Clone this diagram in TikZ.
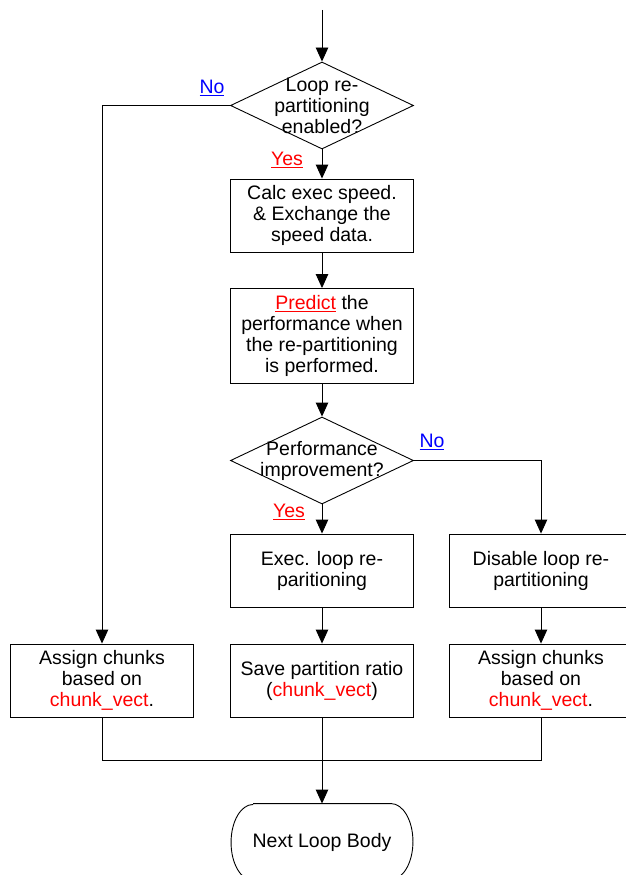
\documentclass[tikz,border=0pt]{standalone}
\usepackage{fontspec}
\setmainfont{Liberation Sans}
\usetikzlibrary{shapes.geometric,arrows.meta}
\definecolor{lnk}{RGB}{0,0,255}
\definecolor{hot}{RGB}{255,0,0}
\newcommand{\yeslbl}{\textcolor{hot}{\underline{Yes}}}
\newcommand{\nolbl}{\textcolor{lnk}{\underline{No}}}
\newcommand{\cv}{\textcolor{hot}{chunk\_vect}}
\begin{document}
\begin{tikzpicture}[x=1pt,y=-1pt,
  font=\fontsize{19.5}{21}\selectfont,
  line width=0.9pt,
  arr/.style={-{Triangle[length=14pt,width=12.5pt]}},
  procbox/.style={draw, rectangle, minimum width=183, minimum height=73, inner sep=0pt, align=center},
  decbox/.style={draw, diamond, minimum width=183, minimum height=87, inner sep=0pt},
  termbox/.style={rectangle, minimum width=181, minimum height=76, inner sep=0pt},
  txt/.style={align=center, inner sep=0pt}]
\useasboundingbox (0,0) rectangle (626,875);
\clip (0,0) rectangle (626,875);

\coordinate (start) at (322,10);
\node[decbox] (d1) at (322,105.5) {};
\node[txt] (d1t) at (d1) {Loop re-\\partitioning\\enabled?};
\node[procbox] (b1) at (322,215.5) {Calc exec speed.\\\& Exchange the\\speed data.};
\node[procbox, minimum height=95] (b2) at (322,336) {\textcolor{hot}{\underline{Predict}} the\\performance when\\the re-partitioning\\is performed.};
\node[decbox] (d2) at (322,460.5) {};
\node[txt] (d2t) at (d2) {Performance\\improvement?};
\node[procbox] (b3) at (322,570.5) {Exec. loop re-\\paritioning};
\node[procbox] (b4) at (541,570.5) {Disable loop re-\\partitioning};
\node[procbox] (b5) at (102,680.5) {Assign chunks\\based on\\\cv.};
\node[procbox] (b6) at (322,680.5) {Save partition ratio\\(\cv)};
\node[procbox] (b7) at (541,680.5) {Assign chunks\\based on\\\cv.};
\node[termbox] (t) at (322,842) {Next Loop Body};
\draw ([xshift=22pt]t.north west) -- ([xshift=-22pt]t.north east)
  arc[start angle=90, end angle=-90, x radius=22pt, y radius=38pt]
  -- ([xshift=22pt]t.south west)
  arc[start angle=270, end angle=90, x radius=22pt, y radius=38pt];

\node[txt] (no1) at (212,88) {\nolbl};
\node[txt] (yes1) at (287,160) {\yeslbl};
\node[txt] (no2) at (432,442) {\nolbl};
\node[txt] (yes2) at (289,512) {\yeslbl};

\draw[arr] (start) -- (d1.north);
\draw[arr] (d1.west) -| (b5.north);
\draw[arr] (d1.south) -- (b1.north);
\draw[arr] (b1.south) -- (b2.north);
\draw[arr] (b2.south) -- (d2.north);
\draw[arr] (d2.south) -- (b3.north);
\draw[arr] (d2.east) -| (b4.north);
\draw[arr] (b3.south) -- (b6.north);
\draw[arr] (b4.south) -- (b7.north);
\coordinate (jl) at (102,760.5);
\coordinate (jr) at (541,760.5);
\draw (b5.south) -- (jl) -- (jr) -- (b7.south);
\draw[arr] (b6.south) -- (t.north);
\end{tikzpicture}
\end{document}
